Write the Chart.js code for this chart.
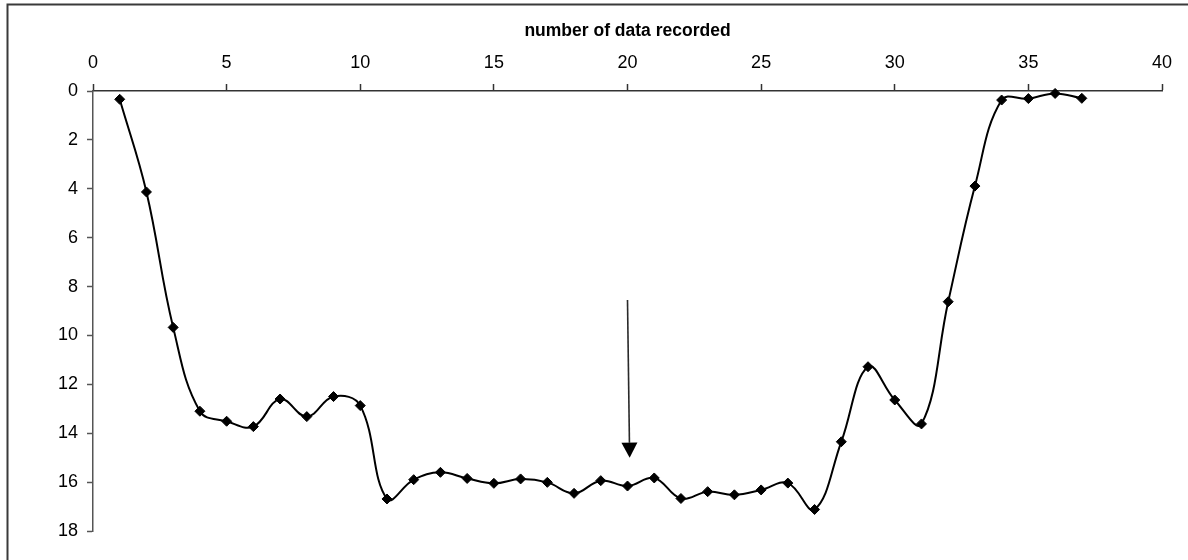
<!DOCTYPE html>
<html>
<head>
<meta charset="utf-8">
<script src="https://cdn.jsdelivr.net/npm/chart.js@4/dist/chart.umd.min.js"></script>
<style>
  html, body { margin: 0; padding: 0; background: #fff; }
  #wrap { width: 1188px; height: 560px; position: relative; }
</style>
</head>
<body>
<div id="wrap"><canvas id="chart" width="1188" height="560"></canvas></div>
<script>
// Recorded sample number and the depth read at each sample
const sampleNumbers = [1, 2, 3, 4, 5, 6, 7, 8, 9, 10,
  11, 12, 13, 14, 15, 16, 17, 18, 19, 20,
  21, 22, 23, 24, 25, 26, 27, 28, 29, 30,
  31, 32, 33, 34, 35, 36, 37];
const depthValues = [0.34, 4.13, 9.67, 13.1, 13.51, 13.73, 12.6, 13.32, 12.5, 12.87,
  16.69, 15.9, 15.6, 15.85, 16.05, 15.87, 16.01, 16.46, 15.94, 16.16,
  15.83, 16.67, 16.39, 16.52, 16.32, 16.04, 17.12, 14.35, 11.28, 12.64,
  13.62, 8.62, 3.89, 0.37, 0.31, 0.1, 0.3];

// Axis ranges and steps
const xRange = [0, 40];
const xStep = 5;
const yRange = [0, 18];
const yStep = 2;
const xTitle = 'number of data recorded';

// Arrow marking the middle sample (data coordinates: start, tip)
const arrowStart = [20, 8.55];
const arrowTip = [20.08, 15.0];

const points = sampleNumbers.map((x, i) => ({ x: x, y: depthValues[i] }));

const FONT = "'Liberation Sans', Arial, sans-serif";

// Frame round the figure (open on the right and bottom edges)
const framePlugin = {
  id: 'frame',
  beforeDraw(chart) {
    const ctx = chart.ctx;
    ctx.save();
    ctx.strokeStyle = '#3a3a3a';
    ctx.lineWidth = 2;
    ctx.beginPath();
    ctx.moveTo(7.5, 560);
    ctx.lineTo(7.5, 4.5);
    ctx.lineTo(1188, 4.5);
    ctx.stroke();
    ctx.restore();
  }
};

// Downward arrow annotation
const arrowPlugin = {
  id: 'arrow',
  afterDatasetsDraw(chart) {
    const xs = chart.scales.x, ys = chart.scales.y;
    const x0 = xs.getPixelForValue(arrowStart[0]);
    const y0 = ys.getPixelForValue(arrowStart[1]);
    const x1 = xs.getPixelForValue(arrowTip[0]);
    const y1 = ys.getPixelForValue(arrowTip[1]);
    const headLen = 15, headHalf = 8;
    const ang = Math.atan2(y1 - y0, x1 - x0);
    const bx = x1 - headLen * Math.cos(ang);
    const by = y1 - headLen * Math.sin(ang);
    const ctx = chart.ctx;
    ctx.save();
    ctx.strokeStyle = '#2a2a2a';
    ctx.fillStyle = '#000';
    ctx.lineWidth = 1.6;
    ctx.beginPath();
    ctx.moveTo(x0, y0);
    ctx.lineTo(bx, by);
    ctx.stroke();
    ctx.beginPath();
    ctx.moveTo(x1, y1);
    ctx.lineTo(bx + headHalf * Math.sin(ang), by - headHalf * Math.cos(ang));
    ctx.lineTo(bx - headHalf * Math.sin(ang), by + headHalf * Math.cos(ang));
    ctx.closePath();
    ctx.fill();
    ctx.restore();
  }
};

new Chart(document.getElementById('chart'), {
  type: 'line',
  data: {
    datasets: [{
      data: points,
      borderColor: '#000',
      borderWidth: 2,
      backgroundColor: '#000',
      pointStyle: 'rectRot',
      pointRadius: 5,
      pointBorderWidth: 1,
      pointBackgroundColor: '#000',
      pointBorderColor: '#000',
      tension: 0.4,
      fill: false,
      clip: false
    }]
  },
  options: {
    responsive: false,
    animation: false,
    layout: { padding: { left: 0, top: 0, right: 26, bottom: 29 } },
    plugins: {
      legend: { display: false },
      tooltip: { enabled: false }
    },
    scales: {
      x: {
        type: 'linear',
        position: 'top',
        min: xRange[0],
        max: xRange[1],
        ticks: {
          stepSize: xStep,
          color: '#000',
          padding: 10,
          maxRotation: 0,
          font: { family: FONT, size: 18 }
        },
        grid: {
          drawOnChartArea: false,
          drawTicks: true,
          tickLength: 7,
          tickColor: '#333',
          tickWidth: 1.5
        },
        border: { display: true, color: '#333', width: 1.5 },
        title: {
          display: true,
          text: xTitle,
          color: '#000',
          font: { family: FONT, size: 17.5, weight: 'bold' },
          padding: { top: 21, bottom: 0 }
        },
        afterFit(scale) { scale.height = 91; }
      },
      y: {
        type: 'linear',
        reverse: true,
        min: yRange[0],
        max: yRange[1],
        ticks: {
          stepSize: yStep,
          color: '#000',
          padding: 9,
          font: { family: FONT, size: 18 }
        },
        grid: {
          drawOnChartArea: false,
          drawTicks: true,
          tickLength: 6,
          tickColor: '#555',
          tickWidth: 1.5
        },
        border: { display: true, color: '#555', width: 1.5 },
        afterFit(scale) { scale.width = 93; }
      }
    }
  },
  plugins: [framePlugin, arrowPlugin]
});
</script>
</body>
</html>
